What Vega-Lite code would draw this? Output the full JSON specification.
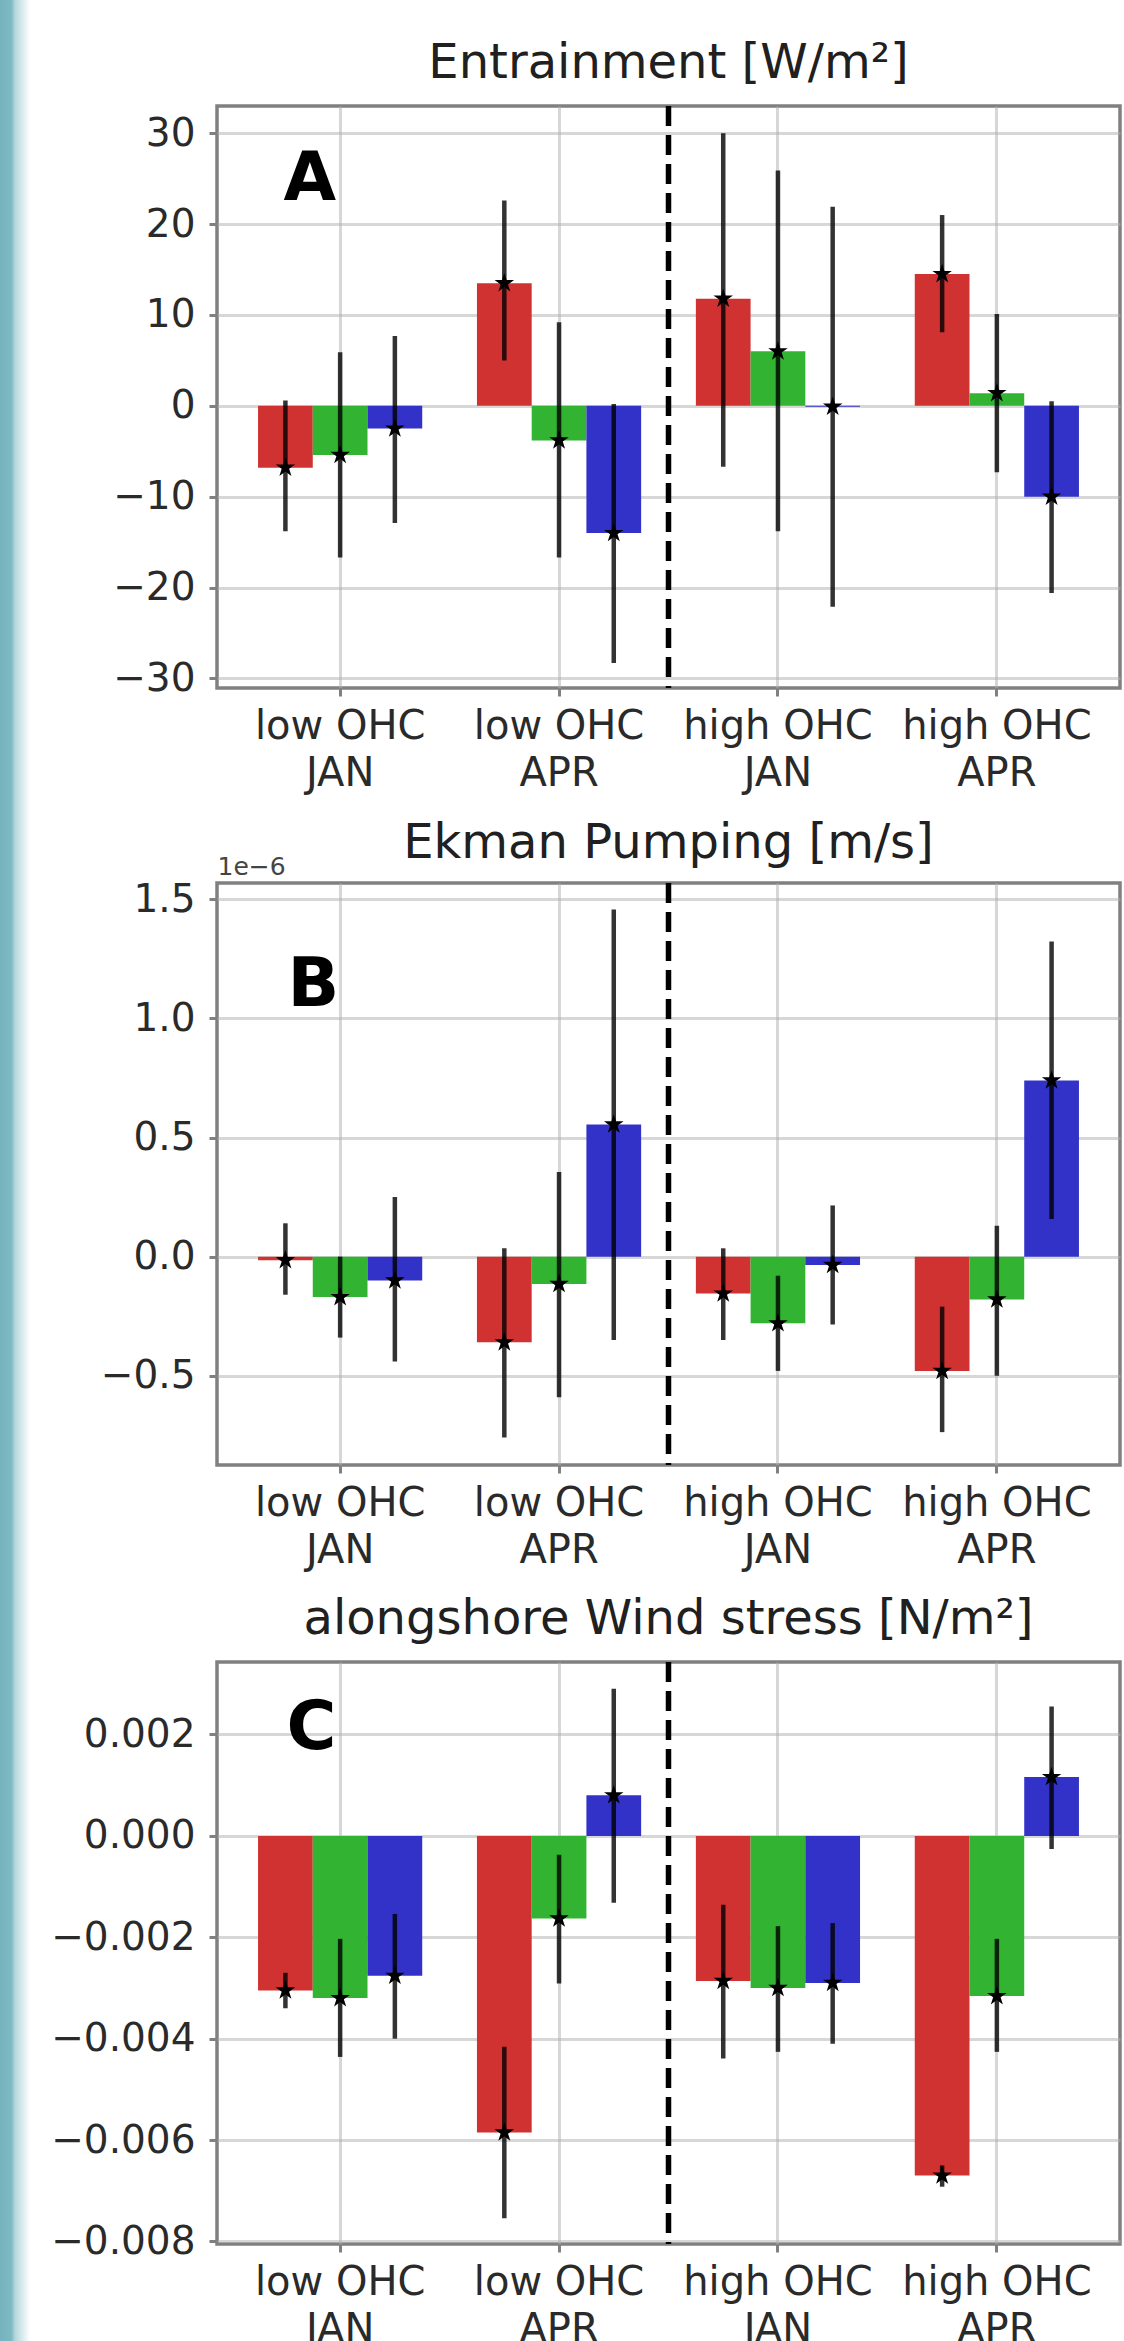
{
  "$schema": "https://vega.github.io/schema/vega-lite/v6.json",
  "padding": 0,
  "background": "white",
  "config": {
    "font": "DejaVu Sans",
    "view": {"stroke": "#808080", "strokeWidth": 3.5},
    "axis": {
      "labelFont": "DejaVu Sans", "labelFontSize": 39, "labelColor": "#2a2a2a", "labelLimit": 400,
      "tickColor": "#808080", "tickWidth": 3, "tickSize": 8,
      "domain": false, "grid": true, "gridColor": "#b0b0b0", "gridOpacity": 0.5, "gridWidth": 3,
      "zindex": 1
    },
    "axisX": {"labelFontSize": 40},
    "title": {"font": "DejaVu Sans", "fontSize": 48, "fontWeight": "normal", "color": "#202020", "baseline": "alphabetic", "offset": 15.5, "anchor": "middle", "frame": "group"}
  },
  "datasets": {
    "entrainment": [
      {"group": "low OHC\nJAN", "series": "S1", "value": -6.8, "lo": -13.8, "hi": 0.6},
      {"group": "low OHC\nJAN", "series": "S2", "value": -5.4, "lo": -16.7, "hi": 5.9},
      {"group": "low OHC\nJAN", "series": "S3", "value": -2.5, "lo": -12.9, "hi": 7.7},
      {"group": "low OHC\nAPR", "series": "S1", "value": 13.5, "lo": 5.0, "hi": 22.6},
      {"group": "low OHC\nAPR", "series": "S2", "value": -3.8, "lo": -16.7, "hi": 9.2},
      {"group": "low OHC\nAPR", "series": "S3", "value": -14.0, "lo": -28.3, "hi": 0.2},
      {"group": "high OHC\nJAN", "series": "S1", "value": 11.8, "lo": -6.7, "hi": 30.0},
      {"group": "high OHC\nJAN", "series": "S2", "value": 6.0, "lo": -13.8, "hi": 25.9},
      {"group": "high OHC\nJAN", "series": "S3", "value": -0.1, "lo": -22.1, "hi": 21.9},
      {"group": "high OHC\nAPR", "series": "S1", "value": 14.5, "lo": 8.1, "hi": 21.0},
      {"group": "high OHC\nAPR", "series": "S2", "value": 1.4, "lo": -7.3, "hi": 10.1},
      {"group": "high OHC\nAPR", "series": "S3", "value": -10.0, "lo": -20.6, "hi": 0.5}
    ],
    "ekman": [
      {"group": "low OHC\nJAN", "series": "S1", "value": -1.5e-8, "lo": -1.6e-7, "hi": 1.4e-7},
      {"group": "low OHC\nJAN", "series": "S2", "value": -1.7e-7, "lo": -3.4e-7, "hi": 0.0},
      {"group": "low OHC\nJAN", "series": "S3", "value": -1.0e-7, "lo": -4.4e-7, "hi": 2.5e-7},
      {"group": "low OHC\nAPR", "series": "S1", "value": -3.6e-7, "lo": -7.6e-7, "hi": 3.5e-8},
      {"group": "low OHC\nAPR", "series": "S2", "value": -1.15e-7, "lo": -5.9e-7, "hi": 3.55e-7},
      {"group": "low OHC\nAPR", "series": "S3", "value": 5.55e-7, "lo": -3.5e-7, "hi": 1.458e-6},
      {"group": "high OHC\nJAN", "series": "S1", "value": -1.55e-7, "lo": -3.5e-7, "hi": 3.5e-8},
      {"group": "high OHC\nJAN", "series": "S2", "value": -2.8e-7, "lo": -4.8e-7, "hi": -8.0e-8},
      {"group": "high OHC\nJAN", "series": "S3", "value": -3.5e-8, "lo": -2.85e-7, "hi": 2.15e-7},
      {"group": "high OHC\nAPR", "series": "S1", "value": -4.8e-7, "lo": -7.37e-7, "hi": -2.1e-7},
      {"group": "high OHC\nAPR", "series": "S2", "value": -1.8e-7, "lo": -5.0e-7, "hi": 1.3e-7},
      {"group": "high OHC\nAPR", "series": "S3", "value": 7.4e-7, "lo": 1.58e-7, "hi": 1.323e-6}
    ],
    "wind": [
      {"group": "low OHC\nJAN", "series": "S1", "value": -0.00305, "lo": -0.0034, "hi": -0.0027},
      {"group": "low OHC\nJAN", "series": "S2", "value": -0.0032, "lo": -0.00436, "hi": -0.00203},
      {"group": "low OHC\nJAN", "series": "S3", "value": -0.00276, "lo": -0.004, "hi": -0.00154},
      {"group": "low OHC\nAPR", "series": "S1", "value": -0.00585, "lo": -0.00754, "hi": -0.00416},
      {"group": "low OHC\nAPR", "series": "S2", "value": -0.00163, "lo": -0.00291, "hi": -0.00037},
      {"group": "low OHC\nAPR", "series": "S3", "value": 0.0008, "lo": -0.00132, "hi": 0.0029},
      {"group": "high OHC\nJAN", "series": "S1", "value": -0.00286, "lo": -0.00439, "hi": -0.00136},
      {"group": "high OHC\nJAN", "series": "S2", "value": -0.003, "lo": -0.00426, "hi": -0.00178},
      {"group": "high OHC\nJAN", "series": "S3", "value": -0.0029, "lo": -0.0041, "hi": -0.00172},
      {"group": "high OHC\nAPR", "series": "S1", "value": -0.0067, "lo": -0.00692, "hi": -0.0065},
      {"group": "high OHC\nAPR", "series": "S2", "value": -0.00316, "lo": -0.00426, "hi": -0.00203},
      {"group": "high OHC\nAPR", "series": "S3", "value": 0.00116, "lo": -0.00026, "hi": 0.00255}
    ]
  },
  "spacing": 18,
  "hconcat": [
    {
      "width": 30, "height": 2341,
      "view": {"stroke": null},
      "data": {"values": [{}]},
      "mark": {"type": "rect", "fill": {"gradient": "linear", "x1": 0, "y1": 0, "x2": 1, "y2": 0, "stops": [{"offset": 0, "color": "#74b3bd"}, {"offset": 0.38, "color": "#7fbac4"}, {"offset": 0.5, "color": "#b4d6db"}, {"offset": 1, "color": "#ffffff"}]}},
      "encoding": {}
    },
    {
      "spacing": 22,
      "vconcat": [
        {"width": 903, "height": 16, "view": {"stroke": null}, "data": {"values": []}, "mark": "point"},
        {
          "width": 903, "height": 582,
          "title": "Entrainment [W/m²]",
          "resolve": {"scale": {"x": "independent"}},
          "layer": [
            {
              "data": {"name": "entrainment"},
              "encoding": {
                "x": {"field": "group", "type": "nominal", "sort": null, "scale": {"type": "band", "paddingInner": 0.25, "paddingOuter": 0.1875},
                      "axis": {"title": null, "labelAngle": 0, "labelExpr": "split(datum.label, '\\n')", "labelLineHeight": 47, "labelPadding": 10, "labelBaseline": "top", "bandPosition": 0.5}},
                "xOffset": {"field": "series", "type": "nominal", "scale": {"paddingInner": 0, "paddingOuter": 0}}
              },
              "layer": [
                {"mark": {"type": "bar"},
                 "encoding": {
                   "y": {"field": "value", "type": "quantitative", "scale": {"domain": [-31.05, 33.0], "nice": false, "zero": false},
                         "axis": {"title": null, "values": [-30, -20, -10, 0, 10, 20, 30], "format": "d", "labelPadding": 14}},
                   "color": {"field": "series", "type": "nominal", "scale": {"domain": ["S1", "S2", "S3"], "range": ["#d03232", "#32b432", "#3232c8"]}, "legend": null}}},
                {"mark": {"type": "rule", "strokeWidth": 4.5, "color": "black", "opacity": 0.8},
                 "encoding": {"y": {"field": "lo", "type": "quantitative"}, "y2": {"field": "hi"}}},
                {"mark": {"type": "point", "shape": "M0,-1L0.2245,-0.309L0.9511,-0.309L0.3633,0.118L0.5878,0.809L0,0.382L-0.5878,0.809L-0.3633,0.118L-0.9511,-0.309L-0.2245,-0.309Z", "filled": true, "color": "black", "opacity": 1, "size": 420},
                 "encoding": {"y": {"field": "value", "type": "quantitative"}}}
              ]
            },
            {
              "data": {"values": [{}]},
              "layer": [
                {"mark": {"type": "rule", "color": "black", "strokeWidth": 5.5, "strokeDash": [20, 9]},
                 "encoding": {"x": {"datum": 1.5, "type": "quantitative", "scale": {"domain": [-0.5625, 3.5625], "nice": false, "zero": false}, "axis": null}}},
                {"mark": {"type": "text", "text": "A", "fontSize": 68, "fontWeight": "bold", "color": "black", "align": "left", "baseline": "alphabetic"},
                 "encoding": {"x": {"datum": -0.259, "type": "quantitative", "axis": null}, "y": {"datum": 22.7, "type": "quantitative"}}}
              ]
            }
          ]
        },
        {
          "width": 903, "height": 582,
          "title": {"text": "Ekman Pumping [m/s]", "offset": -13.5},
          "resolve": {"scale": {"x": "independent"}},
          "layer": [
            {
              "data": {"name": "ekman"},
              "encoding": {
                "x": {"field": "group", "type": "nominal", "sort": null, "scale": {"type": "band", "paddingInner": 0.25, "paddingOuter": 0.1875},
                      "axis": {"title": null, "labelAngle": 0, "labelExpr": "split(datum.label, '\\n')", "labelLineHeight": 47, "labelPadding": 10, "labelBaseline": "top", "bandPosition": 0.5}},
                "xOffset": {"field": "series", "type": "nominal", "scale": {"paddingInner": 0, "paddingOuter": 0}}
              },
              "layer": [
                {"mark": {"type": "bar"},
                 "encoding": {
                   "y": {"field": "value", "type": "quantitative", "scale": {"domain": [-8.75e-7, 1.569e-6], "nice": false, "zero": false},
                         "axis": {"title": "1e−6", "titleAngle": 0, "titleAlign": "left", "titleBaseline": "alphabetic", "titleX": 0, "titleY": -9, "titleFontSize": 25, "titleFontWeight": "normal", "titleColor": "#444444", "titleFont": "DejaVu Sans",
                                  "values": [-5e-7, 0, 5e-7, 1e-6, 1.5e-6], "labelExpr": "format(datum.value * 1e6, '.1f')", "labelPadding": 14}},
                   "color": {"field": "series", "type": "nominal", "scale": {"domain": ["S1", "S2", "S3"], "range": ["#d03232", "#32b432", "#3232c8"]}, "legend": null}}},
                {"mark": {"type": "rule", "strokeWidth": 4.5, "color": "black", "opacity": 0.8},
                 "encoding": {"y": {"field": "lo", "type": "quantitative"}, "y2": {"field": "hi"}}},
                {"mark": {"type": "point", "shape": "M0,-1L0.2245,-0.309L0.9511,-0.309L0.3633,0.118L0.5878,0.809L0,0.382L-0.5878,0.809L-0.3633,0.118L-0.9511,-0.309L-0.2245,-0.309Z", "filled": true, "color": "black", "opacity": 1, "size": 420},
                 "encoding": {"y": {"field": "value", "type": "quantitative"}}}
              ]
            },
            {
              "data": {"values": [{}]},
              "layer": [
                {"mark": {"type": "rule", "color": "black", "strokeWidth": 5.5, "strokeDash": [20, 9]},
                 "encoding": {"x": {"datum": 1.5, "type": "quantitative", "scale": {"domain": [-0.5625, 3.5625], "nice": false, "zero": false}, "axis": null}}},
                {"mark": {"type": "text", "text": "B", "fontSize": 68, "fontWeight": "bold", "color": "black", "align": "left", "baseline": "alphabetic"},
                 "encoding": {"x": {"datum": -0.241, "type": "quantitative", "axis": null}, "y": {"datum": 1.052e-6, "type": "quantitative"}}}
              ]
            }
          ]
        },
        {
          "width": 903, "height": 582,
          "title": "alongshore Wind stress [N/m²]",
          "resolve": {"scale": {"x": "independent"}},
          "layer": [
            {
              "data": {"name": "wind"},
              "encoding": {
                "x": {"field": "group", "type": "nominal", "sort": null, "scale": {"type": "band", "paddingInner": 0.25, "paddingOuter": 0.1875},
                      "axis": {"title": null, "labelAngle": 0, "labelExpr": "split(datum.label, '\\n')", "labelLineHeight": 47, "labelPadding": 10, "labelBaseline": "top", "bandPosition": 0.5}},
                "xOffset": {"field": "series", "type": "nominal", "scale": {"paddingInner": 0, "paddingOuter": 0}}
              },
              "layer": [
                {"mark": {"type": "bar"},
                 "encoding": {
                   "y": {"field": "value", "type": "quantitative", "scale": {"domain": [-0.00805, 0.00343], "nice": false, "zero": false},
                         "axis": {"title": null, "values": [-0.008, -0.006, -0.004, -0.002, 0, 0.002], "format": ".3f", "labelPadding": 14}},
                   "color": {"field": "series", "type": "nominal", "scale": {"domain": ["S1", "S2", "S3"], "range": ["#d03232", "#32b432", "#3232c8"]}, "legend": null}}},
                {"mark": {"type": "rule", "strokeWidth": 4.5, "color": "black", "opacity": 0.8},
                 "encoding": {"y": {"field": "lo", "type": "quantitative"}, "y2": {"field": "hi"}}},
                {"mark": {"type": "point", "shape": "M0,-1L0.2245,-0.309L0.9511,-0.309L0.3633,0.118L0.5878,0.809L0,0.382L-0.5878,0.809L-0.3633,0.118L-0.9511,-0.309L-0.2245,-0.309Z", "filled": true, "color": "black", "opacity": 1, "size": 420},
                 "encoding": {"y": {"field": "value", "type": "quantitative"}}}
              ]
            },
            {
              "data": {"values": [{}]},
              "layer": [
                {"mark": {"type": "rule", "color": "black", "strokeWidth": 5.5, "strokeDash": [20, 9]},
                 "encoding": {"x": {"datum": 1.5, "type": "quantitative", "scale": {"domain": [-0.5625, 3.5625], "nice": false, "zero": false}, "axis": null}}},
                {"mark": {"type": "text", "text": "C", "fontSize": 68, "fontWeight": "bold", "color": "black", "align": "left", "baseline": "alphabetic"},
                 "encoding": {"x": {"datum": -0.245, "type": "quantitative", "axis": null}, "y": {"datum": 0.00172, "type": "quantitative"}}}
              ]
            }
          ]
        }
      ]
    }
  ]
}
